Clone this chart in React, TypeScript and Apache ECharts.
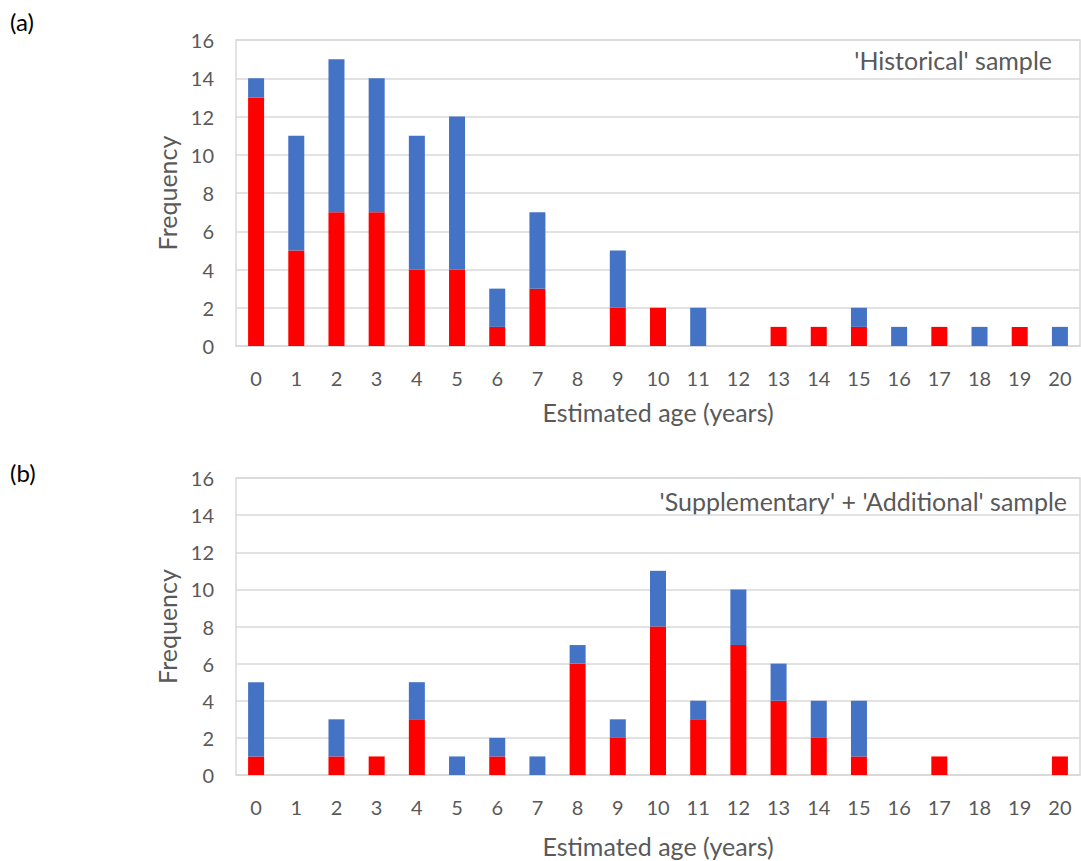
import React, { useEffect, useRef } from "react";
import * as echarts from "echarts";

const ages = ["0","1","2","3","4","5","6","7","8","9","10","11","12","13","14","15","16","17","18","19","20"];
const histRed = [13, 5, 7, 7, 4, 4, 1, 3, 0, 2, 2, 0, 0, 1, 1, 1, 0, 1, 0, 1, 0];
const histBlue = [1, 6, 8, 7, 7, 8, 2, 4, 0, 3, 0, 2, 0, 0, 0, 1, 1, 0, 1, 0, 1];
const suppRed = [1, 0, 1, 1, 3, 0, 1, 0, 6, 2, 8, 3, 7, 4, 2, 1, 0, 1, 0, 0, 1];
const suppBlue = [4, 0, 2, 0, 2, 1, 1, 1, 1, 1, 3, 1, 3, 2, 2, 3, 0, 0, 0, 0, 0];
const yMin = 0;
const yMax = 16;
const yStep = 2;
const panelLabels = ["(a)", "(b)"];
const sampleNames = ["'Historical' sample", "'Supplementary' + 'Additional' sample"];
const xTitle = "Estimated age (years)";
const yTitle = "Frequency";

const FONT = "Lato";
const TEXT = "#595959";
const GRIDC = "#D9D9D9";
const RED = "#FF0000";
const BLUE = "#4472C4";

export default function App() {
  const ref = useRef<HTMLDivElement>(null);
  useEffect(() => {
    document.body.style.margin = "0";
    const chart = echarts.init(ref.current!, null, { renderer: "svg" });
    const grids = [
      { left: 236, right: 1, top: 40, height: 306 },
      { left: 236, right: 1, top: 478, height: 297 },
    ];
    const nameGaps = [53, 58];
    const xAxis = grids.map((_, i) => ({
      type: "category",
      gridIndex: i,
      data: ages,
      axisTick: { show: false },
      axisLine: { lineStyle: { color: GRIDC, width: 1.5 } },
      axisLabel: { color: TEXT, fontSize: 20, fontFamily: FONT, margin: 22, interval: 0 },
      name: xTitle,
      nameLocation: "middle",
      nameGap: nameGaps[i],
      nameTextStyle: { color: TEXT, fontSize: 25, fontFamily: FONT },
    }));
    const yAxis = grids.map((_, i) => ({
      type: "value",
      gridIndex: i,
      min: yMin,
      max: yMax,
      interval: yStep,
      axisLine: { show: false },
      axisTick: { show: false },
      splitLine: { lineStyle: { color: GRIDC, width: 1.5 } },
      axisLabel: { color: TEXT, fontSize: 20, fontFamily: FONT, margin: 22 },
      name: yTitle,
      nameLocation: "middle",
      nameGap: 56,
      nameTextStyle: { color: TEXT, fontSize: 25, fontFamily: FONT },
    }));
    const mk = (name: string, data: number[], color: string, idx: number, stack: string) => ({
      type: "bar",
      name,
      data,
      stack,
      xAxisIndex: idx,
      yAxisIndex: idx,
      barWidth: 16,
      itemStyle: { color },
    });
    chart.setOption({
      animation: false,
      grid: grids.map((g) => ({ ...g, show: true, borderColor: GRIDC, borderWidth: 1.5 })),
      xAxis,
      yAxis,
      series: [
        mk("a-red", histRed, RED, 0, "a"),
        mk("a-blue", histBlue, BLUE, 0, "a"),
        mk("b-red", suppRed, RED, 1, "b"),
        mk("b-blue", suppBlue, BLUE, 1, "b"),
      ],
      graphic: [
        { type: "text", left: 10, top: 9, style: { text: panelLabels[0], fill: "#000", fontSize: 24, fontFamily: FONT } },
        { type: "text", left: 10, top: 460, style: { text: panelLabels[1], fill: "#000", fontSize: 24, fontFamily: FONT } },
        { type: "text", x: 1052, y: 60, style: { text: sampleNames[0], fill: TEXT, fontSize: 25, fontFamily: FONT, align: "right", verticalAlign: "middle" } },
        { type: "text", x: 1067, y: 501, style: { text: sampleNames[1], fill: TEXT, fontSize: 25, fontFamily: FONT, align: "right", verticalAlign: "middle" } },
      ],
    });
    return () => chart.dispose();
  }, []);
  return <div ref={ref} style={{ width: 1081, height: 861 }} />;
}
